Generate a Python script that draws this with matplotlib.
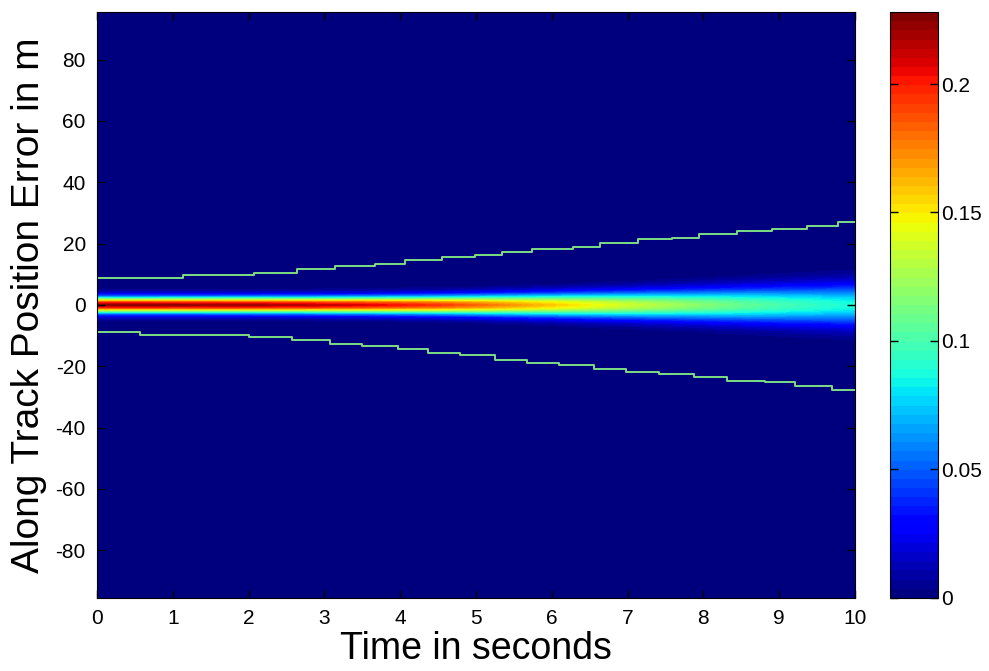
import numpy as np
import matplotlib
matplotlib.use('Agg')
import matplotlib.pyplot as plt

# peak density along the centre line, read every 0.5 s
t_peak = [0, 0.5, 1, 1.5, 2, 2.5, 3, 3.5, 4, 4.5, 5, 5.5, 6, 6.5, 7, 7.5, 8, 8.5, 9, 9.5, 10]
peak = [0.228, 0.228, 0.227, 0.226, 0.224, 0.221, 0.217, 0.212, 0.205, 0.197, 0.185,
        0.172, 0.160, 0.148, 0.137, 0.127, 0.117, 0.108, 0.100, 0.093, 0.087]

# green bounds (stepped)
t_up = [0, 1.13, 2.07, 2.64, 3.14, 3.67, 4.06, 4.55, 4.99, 5.34, 5.74, 6.28, 6.64,
        7.14, 7.58, 7.94, 8.45, 8.9, 9.37, 9.77, 10]
y_up = [8.8, 9.8, 10.5, 11.8, 12.7, 13.4, 14.7, 15.7, 16.2, 17.3, 18.3, 19.0, 20.3,
        21.6, 21.9, 23.2, 24.2, 24.8, 25.8, 27.1, 27.1]
t_lo = [0, 0.57, 2.0, 2.57, 3.07, 3.5, 3.97, 4.37, 4.79, 5.25, 5.67, 6.1, 6.56,
        6.98, 7.42, 7.88, 8.31, 8.81, 9.21, 9.7, 10]
y_lo = [-8.8, -9.8, -10.5, -11.4, -12.7, -13.4, -14.4, -15.7, -16.4, -18.0, -19.0, -19.6, -20.9,
        -21.9, -22.5, -23.5, -24.8, -25.2, -26.5, -27.8, -27.8]

pos = np.arange(-95, 96)  # 1 m cells

plt.rcParams['font.family'] = ['Liberation Sans', 'DejaVu Sans']
plt.rcParams['axes.unicode_minus'] = False

# gaussian column for each time, width from the peak height
pk = np.array(peak)
sig = 1.0 / (np.sqrt(2 * np.pi) * pk)
Z = pk[None, :] * np.exp(-pos[:, None]**2 / (2 * sig[None, :]**2))

fig = plt.figure(figsize=(9.89, 6.71), dpi=100)
ax = fig.add_axes([0.098, 0.109, 0.7665, 0.873])
cax = fig.add_axes([0.900, 0.109, 0.0485, 0.873])

dt = 0.25
im = ax.imshow(Z, origin='lower', aspect='auto', cmap=plt.get_cmap('jet', 64),
               vmin=0, vmax=0.228, interpolation='bilinear',
               extent=[t_peak[0] - dt, t_peak[-1] + dt, pos[0] - 0.5, pos[-1] + 0.5])

gc = '#7ddc84'
ax.step(t_up, y_up, where='post', color=gc, lw=1.4)
ax.step(t_lo, y_lo, where='post', color=gc, lw=1.4)

ax.set_xlim(0, 10)
ax.set_ylim(-95.5, 95.5)
ax.set_xticks(range(0, 11))
ax.set_yticks(range(-80, 81, 20))
ax.tick_params(direction='in', length=6, width=1, top=True, right=True, labelsize=15, pad=8)
ax.set_xlabel('Time in seconds', fontsize=27, labelpad=2)
ax.set_ylabel('Along Track Position Error in m', fontsize=28, labelpad=6)

cb = fig.colorbar(im, cax=cax, ticks=[0, 0.05, 0.1, 0.15, 0.2])
cb.ax.set_yticklabels(['0', '0.05', '0.1', '0.15', '0.2'])
cb.ax.tick_params(direction='in', length=6, width=1, left=True, right=True, labelsize=15, pad=2)

fig.savefig('out.png', dpi=100)
